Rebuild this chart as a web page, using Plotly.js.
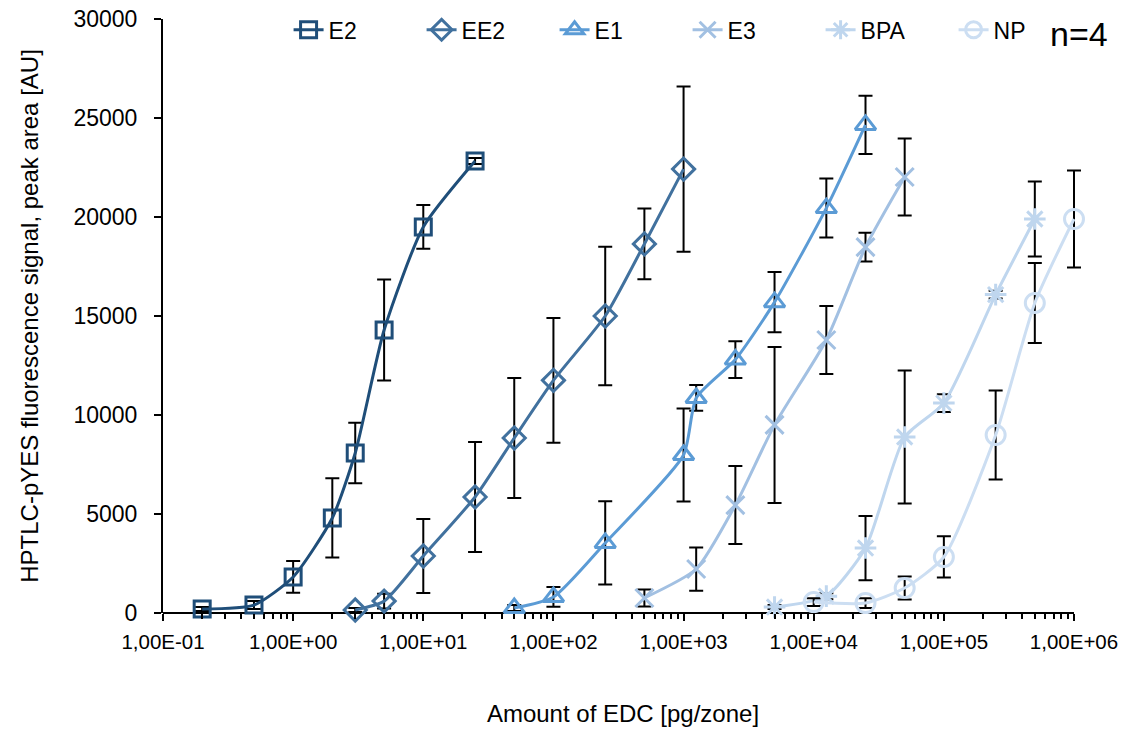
<!DOCTYPE html>
<html>
<head>
<meta charset="utf-8">
<script src="https://cdn.plot.ly/plotly-3.0.1.min.js"></script>
<style>html,body{margin:0;padding:0;background:#fff;}#chart{width:1122px;height:729px;}</style>
</head>
<body>
<div id="chart"></div>
<script>
// ---- data ----
const seriesNames = ["E2", "EE2", "E1", "E3", "BPA", "NP"];

const e2X   = [0.2, 0.5, 1, 2, 3, 5, 10, 25];
const e2Y   = [200, 400, 1820, 4800, 8080, 14290, 19500, 22830];
const e2Err = [100, 200, 800, 2000, 1530, 2550, 1100, 150];

const ee2X   = [3, 5, 10, 25, 50, 100, 250, 500, 1000];
const ee2Y   = [150, 600, 2880, 5860, 8840, 11750, 15000, 18640, 22420];
const ee2Err = [100, 370, 1870, 2780, 3030, 3150, 3500, 1790, 4170];

const e1X   = [50, 100, 250, 1000, 1250, 2500, 5000, 12500, 25000];
const e1Y   = [250, 810, 3540, 7980, 10860, 12800, 15700, 20450, 24650];
const e1Err = [150, 500, 2100, 2350, 650, 930, 1520, 1490, 1470];

const e3X   = [500, 1250, 2500, 5000, 12500, 25000, 50000];
const e3Y   = [760, 2220, 5450, 9500, 13790, 18480, 22020];
const e3Err = [430, 1090, 1970, 3940, 1720, 730, 1940];

const bpaX   = [5000, 12500, 25000, 50000, 100000, 250000, 500000];
const bpaY   = [300, 850, 3280, 8890, 10600, 16080, 19900];
const bpaErr = [100, 150, 1620, 3360, 450, 200, 1890];

const npX   = [10000, 25000, 50000, 100000, 250000, 500000, 1000000];
const npY   = [550, 500, 1260, 2830, 8990, 15660, 19900];
const npErr = [200, 250, 580, 1040, 2250, 2020, 2450];

const xTickVals = [0.1, 1, 10, 100, 1000, 10000, 100000, 1000000];
const xTickText = ["1,00E-01", "1,00E+00", "1,00E+01", "1,00E+02", "1,00E+03", "1,00E+04", "1,00E+05", "1,00E+06"];

// ---- styling ----
const colors  = ["#1F4E79", "#41719E", "#5B9BD5", "#A2C0E2", "#BFD6EE", "#CCDEF2"];
const symbols = ["square-open", "diamond-open", "triangle-up-open", "x-thin-open", "asterisk-open", "circle-open"];
const sizes   = [16, 17, 18, 18, 18, 19];

const xs = [e2X, ee2X, e1X, e3X, bpaX, npX];
const ys = [e2Y, ee2Y, e1Y, e3Y, bpaY, npY];
const es = [e2Err, ee2Err, e1Err, e3Err, bpaErr, npErr];

const FONT = "Liberation Sans, Arial, sans-serif";

const traces = seriesNames.map((name, i) => ({
  type: "scatter",
  mode: "lines+markers",
  name: name,
  x: xs[i],
  y: ys[i],
  cliponaxis: false,
  line: { color: colors[i], width: 3, shape: "spline", smoothing: 0.6 },
  marker: { symbol: symbols[i], size: sizes[i], color: colors[i], line: { color: colors[i], width: 3 } },
  error_y: { type: "data", array: es[i], visible: true, color: "#000000", thickness: 2, width: 7 }
}));

// minor tick positions on the log axis (2..9 x 10^k)
const minorVals = [];
for (let k = -1; k < 6; k++) {
  for (let m = 2; m <= 9; m++) minorVals.push(m * Math.pow(10, k));
}

// plot geometry: the 7 decades span 911 px; a few extra px on the right keep the last error cap visible
const W = 1122, H = 729, ML = 163, MR = 39, MT = 19, MB = 116;
const decadePx = 911 / 7;
const xMax = -1 + (W - ML - MR) / decadePx;

const layout = {
  width: W,
  height: H,
  paper_bgcolor: "#ffffff",
  plot_bgcolor: "#ffffff",
  margin: { l: ML, r: MR, t: MT, b: MB, autoexpand: false },
  font: { family: FONT, size: 20, color: "#000000" },
  showlegend: true,
  legend: {
    orientation: "h",
    x: 0.1365, xanchor: "left",
    y: 1.018, yanchor: "top",
    font: { family: FONT, size: 23, color: "#000000" },
    entrywidthmode: "pixels",
    entrywidth: 88,
    tracegroupgap: 0,
    bgcolor: "rgba(0,0,0,0)"
  },
  xaxis: {
    type: "log",
    range: [-1, xMax],
    tickmode: "array",
    tickvals: xTickVals,
    ticktext: xTickText,
    ticks: "outside",
    ticklen: 7,
    tickwidth: 2,
    tickcolor: "#000",
    ticklabelstandoff: 3,
    showline: false,
    showgrid: false,
    zeroline: false,
    tickfont: { family: FONT, size: 20.5, color: "#000" },
    minor: { tickmode: "array", tickvals: minorVals, ticks: "outside", ticklen: 5, tickwidth: 2, tickcolor: "#000", showgrid: false },
    title: { text: "Amount of EDC [pg/zone]", font: { family: FONT, size: 24, color: "#000" }, standoff: 53 }
  },
  yaxis: {
    range: [0, 30000],
    dtick: 5000,
    tick0: 0,
    tickformat: "d",
    ticks: "outside",
    ticklen: 7,
    tickwidth: 2,
    tickcolor: "#000",
    ticklabelstandoff: 12,
    showline: true,
    linecolor: "#000",
    linewidth: 2,
    showgrid: false,
    zeroline: false,
    tickfont: { family: FONT, size: 23, color: "#000" },
    title: { text: "HPTLC-pYES fluorescence signal, peak area [AU]", font: { family: FONT, size: 24, color: "#000" }, standoff: 28 }
  },
  shapes: [
    { type: "line", xref: "x", yref: "paper", x0: xTickVals[0], x1: xTickVals[xTickVals.length - 1], y0: 0, y1: 0,
      layer: "below", line: { color: "#000", width: 2 } }
  ],
  annotations: [
    { text: "n=4", xref: "paper", yref: "paper", x: (1079 - ML) / (W - ML - MR), y: (H - MB - 34) / (H - MT - MB),
      xanchor: "center", yanchor: "middle", showarrow: false, font: { family: FONT, size: 34, color: "#000" } }
  ]
};

Plotly.newPlot("chart", traces, layout, { staticPlot: true, displayModeBar: false });
</script>
</body>
</html>
